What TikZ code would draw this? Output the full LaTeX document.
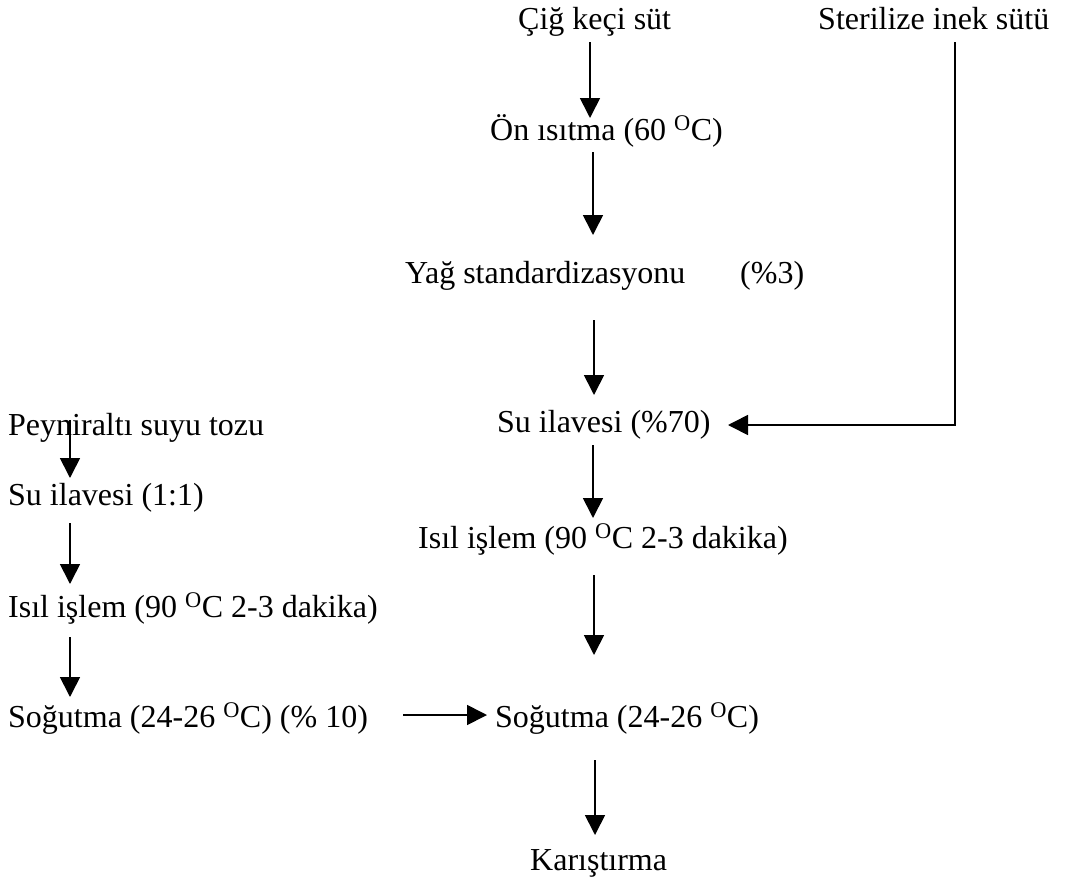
\documentclass[tikz,border=0pt]{standalone}
\usepackage{fontspec}
\setmainfont{Liberation Serif}
\usetikzlibrary{arrows.meta}
\begin{document}
\begin{tikzpicture}[x=1pt,y=-1pt,
  lbl/.style={anchor=base west, inner sep=0pt, font=\fontsize{32}{38}\selectfont},
  arr/.style={line width=1.7pt, -{Triangle[width=20pt,length=20pt]}},
  ln/.style={line width=1.7pt}]
\useasboundingbox (0,0) rectangle (1071,881);
% main column
\node[lbl] (cig) at (518,29) {Çiğ keçi süt};
\node[lbl] (ster) at (818,29) {Sterilize inek sütü};
\node[lbl] (on) at (490,140) {Ön ısıtma (60 \textsuperscript{O}C)};
\node[lbl] (yag) at (405,283) {Yağ standardizasyonu};
\node[lbl] (yp) at (740,283) {(\%3)};
\node[lbl] (su) at (497,432) {Su ilavesi (\%70)};
\node[lbl] (isil) at (418,548) {Isıl işlem (90 \textsuperscript{O}C 2-3 dakika)};
\node[lbl] (sog) at (495,727) {Soğutma (24-26 \textsuperscript{O}C)};
\node[lbl] (kar) at (530,870) {Karıştırma};
% left column
\node[lbl] (pey) at (8,435) {Peyniraltı suyu tozu};
\node[lbl] (su2) at (8,505) {Su ilavesi (1:1)};
\node[lbl] (isil2) at (8,617) {Isıl işlem (90 \textsuperscript{O}C 2-3 dakika)};
\node[lbl] (sog2) at (8,727) {Soğutma (24-26 \textsuperscript{O}C) (\% 10)};
% arrow end points
\coordinate (a1s) at (590,42);  \coordinate (a1e) at (590,118);
\coordinate (a2s) at (593,152); \coordinate (a2e) at (593,235);
\coordinate (a3s) at (594,320); \coordinate (a3e) at (594,395);
\coordinate (a4s) at (593,445); \coordinate (a4e) at (593,518);
\coordinate (a5s) at (594,575); \coordinate (a5e) at (594,655);
\coordinate (a6s) at (595,760); \coordinate (a6e) at (595,835);
\coordinate (l1s) at (70,420);  \coordinate (l1e) at (70,478);
\coordinate (l2s) at (70,523);  \coordinate (l2e) at (70,584);
\coordinate (l3s) at (70,637);  \coordinate (l3e) at (70,697);
\coordinate (hs) at (403,715);  \coordinate (he) at (487,715);
\coordinate (rs) at (955,42);   \coordinate (rc) at (955,425);
\coordinate (re) at (728,425);
% connectors
\draw[arr] (a1s) -- (a1e);
\draw[arr] (a2s) -- (a2e);
\draw[arr] (a3s) -- (a3e);
\draw[arr] (a4s) -- (a4e);
\draw[arr] (a5s) -- (a5e);
\draw[arr] (a6s) -- (a6e);
\draw[arr] (l1s) -- (l1e);
\draw[arr] (l2s) -- (l2e);
\draw[arr] (l3s) -- (l3e);
\draw[arr] (hs) -- (he);
\draw[arr] (rs) -- (rc) -- (re);
\end{tikzpicture}
\end{document}
